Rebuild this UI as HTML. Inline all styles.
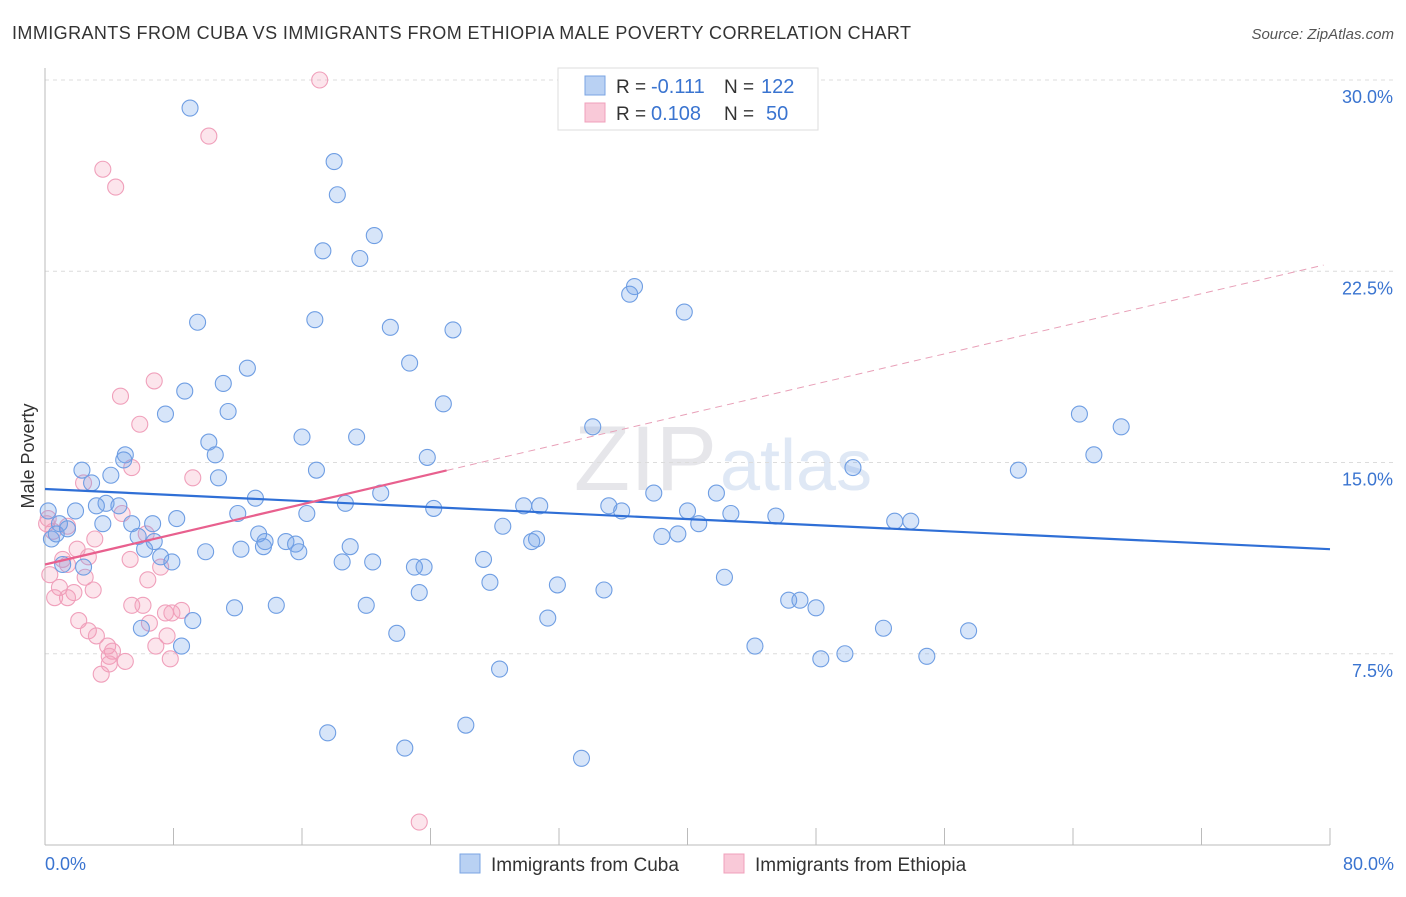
<!DOCTYPE html>
<html><head><meta charset="utf-8">
<style>
body{margin:0;background:#fff;font-family:"Liberation Sans",sans-serif;}
svg text{font-family:"Liberation Sans",sans-serif;}
</style></head>
<body>
<svg id="chart" width="1406" height="892" xmlns="http://www.w3.org/2000/svg">
<text x="12" y="39" font-size="18" fill="#333" textLength="899" lengthAdjust="spacing">IMMIGRANTS FROM CUBA VS IMMIGRANTS FROM ETHIOPIA MALE POVERTY CORRELATION CHART</text>
<text x="1394" y="39" font-size="15" fill="#555" text-anchor="end" font-style="italic">Source: ZipAtlas.com</text>
<text x="717" y="490" font-size="92" fill="#e6e6ea" text-anchor="end" font-family="Liberation Serif">ZIP</text>
<text x="720" y="490" font-size="72" fill="#dfe8f5">atlas</text>
<g id="grid"></g>
<g id="axes"></g>
<g id="marks"></g>
<text transform="translate(34,456) rotate(-90)" font-size="18" fill="#333" text-anchor="middle">Male Poverty</text>
<g>
<rect x="558" y="68" width="260" height="62" fill="#fff" stroke="#ddd"/>
<rect x="585" y="76" width="20" height="19" fill="#b9d1f3" stroke="#7aa4e3"/>
<rect x="585" y="103" width="20" height="19" fill="#f9c9d8" stroke="#f0a0bb"/>
<text x="616" y="93" font-size="19" fill="#333">R =</text>
<text x="651" y="93" font-size="20" fill="#3a74d0">-0.111</text>
<text x="724" y="93" font-size="19" fill="#333">N =</text>
<text x="761" y="93" font-size="20" fill="#3a74d0">122</text>
<text x="616" y="120" font-size="19" fill="#333">R =</text>
<text x="651" y="120" font-size="20" fill="#3a74d0">0.108</text>
<text x="724" y="120" font-size="19" fill="#333">N =</text>
<text x="766" y="120" font-size="20" fill="#3a74d0">50</text>
</g>
<g>
<rect x="460" y="854" width="20" height="19" fill="#b9d1f3" stroke="#7aa4e3"/>
<text x="491" y="871" font-size="19" fill="#333">Immigrants from Cuba</text>
<rect x="724" y="854" width="20" height="19" fill="#f9c9d8" stroke="#f0a0bb"/>
<text x="755" y="871" font-size="19" fill="#333">Immigrants from Ethiopia</text>
</g>
</svg>
<script>
const cubaX=[9.03,18.0,18.2,20.5,17.3,19.6,36.7,36.4,39.8,9.5,16.8,21.5,25.4,22.7,12.6,8.7,11.1,24.8,11.4,7.5,64.4,67.0,34.1,16.0,19.4,10.2,10.6,5.0,4.9,23.8,65.3,50.3,60.6,16.9,2.3,4.1,10.8,2.9,20.9,37.9,41.8,13.1,18.7,3.8,4.6,3.2,24.2,29.8,30.8,35.1,35.9,40.0,42.7,45.5,12.0,16.3,1.9,8.2,52.9,53.9,40.7,6.7,5.4,3.6,0.9,28.5,1.4,13.3,5.8,39.4,38.4,30.6,30.3,6.8,15.0,15.6,13.7,13.6,19.0,6.2,12.2,10.0,15.8,7.2,7.9,18.5,20.4,27.3,1.1,23.0,23.6,42.3,27.7,31.9,23.3,34.8,46.3,47.0,48.0,14.4,11.8,20.0,31.3,9.2,6.0,52.2,57.5,21.9,8.5,44.2,49.8,48.3,54.9,28.3,26.2,17.6,22.4,33.4,0.4,0.2,0.7,2.4];
const cubaY=[28.9,26.8,25.5,23.9,23.3,23.0,21.9,21.6,20.9,20.5,20.6,20.3,20.2,18.9,18.7,17.8,18.1,17.3,17.0,16.9,16.9,16.4,16.4,16.0,16.0,15.8,15.3,15.3,15.1,15.2,15.3,14.8,14.7,14.7,14.7,14.5,14.4,14.2,13.8,13.8,13.8,13.6,13.4,13.4,13.3,13.3,13.2,13.3,13.3,13.3,13.1,13.1,13.0,12.9,13.0,13.0,13.1,12.8,12.7,12.7,12.6,12.6,12.6,12.6,12.6,12.5,12.4,12.2,12.1,12.2,12.1,12.0,11.9,11.9,11.9,11.8,11.9,11.7,11.7,11.6,11.6,11.5,11.5,11.3,11.1,11.1,11.1,11.2,11.0,10.9,10.9,10.5,10.3,10.2,9.9,10.0,9.6,9.6,9.3,9.4,9.3,9.4,8.9,8.8,8.5,8.5,8.4,8.3,7.8,7.8,7.5,7.3,7.4,6.9,4.7,4.4,3.8,3.4,12.0,13.1,12.2,10.9];
const ethX=[17.1,10.2,3.6,4.4,6.8,4.7,5.9,5.4,9.2,2.4,4.8,0.2,1.4,6.3,3.1,2.0,2.7,1.1,5.3,1.4,7.2,0.3,2.5,6.4,0.9,3.0,1.8,0.6,1.4,5.4,6.1,7.5,8.5,7.9,2.1,6.5,2.7,3.2,7.6,3.9,6.9,4.2,4.0,7.8,4.0,5.0,3.5,23.3,0.1,0.5];
const ethY=[30.0,27.8,26.5,25.8,18.2,17.6,16.5,14.8,14.4,14.2,13.0,12.8,12.5,12.2,12.0,11.6,11.3,11.2,11.2,11.0,10.9,10.6,10.5,10.4,10.1,10.0,9.9,9.7,9.7,9.4,9.4,9.1,9.2,9.1,8.8,8.7,8.4,8.2,8.2,7.8,7.8,7.6,7.4,7.3,7.1,7.2,6.7,0.9,12.6,12.3];
const cubaTrend=[13.96,-0.0295];
const ethTrend=[11.0,0.1475];
const yTicks=[7.5,15.0,22.5,30.0];
const yTickLabels=["7.5%","15.0%","22.5%","30.0%"];
const xTicks=[0,8,16,24,32,40,48,56,64,72,80];

const NS="http://www.w3.org/2000/svg";
const xs=v=>45+v*(1285/80);
const ys=v=>845-v*25.5;
function mk(tag,attrs,parent){const e=document.createElementNS(NS,tag);for(const k in attrs)e.setAttribute(k,attrs[k]);parent.appendChild(e);return e;}
const grid=document.getElementById('grid'),axes=document.getElementById('axes'),marks=document.getElementById('marks');
yTicks.forEach((t,i)=>{
  const l=mk('line',{x1:45,x2:1394,y1:ys(t),y2:ys(t),stroke:'#dcdcdc','stroke-dasharray':'4,4'},grid);
  
  
  const tx=mk('text',{x:1393,y:ys(t)+23,'font-size':18,fill:'#3a74d0','text-anchor':'end'},axes);
  tx.textContent=yTickLabels[i];
  
  
});
const ax=mk('line',{x1:45,x2:45,y1:68,y2:845,stroke:'#bbb'},axes);


const bx=mk('line',{x1:45,x2:1330,y1:845,y2:845,stroke:'#bbb'},axes);


xTicks.forEach(t=>{
  const k=mk('line',{x1:xs(t),x2:xs(t),y1:828,y2:845,stroke:'#bbb'},axes);
  
  
});
const xl=mk('text',{x:45,y:870,'font-size':18,fill:'#3a74d0'},axes);xl.textContent='0.0%';


const xr=mk('text',{x:1394,y:870,'font-size':18,fill:'#3a74d0','text-anchor':'end'},axes);xr.textContent='80.0%';



ethX.forEach((x,i)=>{
  const c=mk('circle',{cx:xs(x),cy:ys(ethY[i]),r:8,fill:'rgba(244,150,180,0.25)',stroke:'#f0a0bb','stroke-width':1.1},marks);
  
  
});
cubaX.forEach((x,i)=>{
  const c=mk('circle',{cx:xs(x),cy:ys(cubaY[i]),r:8,fill:'rgba(110,160,235,0.28)',stroke:'#6f9ee3','stroke-width':1.1},marks);
  
  
});
const bl=mk('line',{x1:xs(0),y1:ys(cubaTrend[0]),x2:xs(80),y2:ys(cubaTrend[0]+cubaTrend[1]*80),stroke:'#2f6fd6','stroke-width':2.2},marks);


const pd=mk('line',{x1:xs(25),y1:ys(ethTrend[0]+ethTrend[1]*25),x2:xs(79.6),y2:ys(ethTrend[0]+ethTrend[1]*79.6),stroke:'#e8a0b8','stroke-width':1,'stroke-dasharray':'7,5'},marks);


const pl=mk('line',{x1:xs(0),y1:ys(ethTrend[0]),x2:xs(25),y2:ys(ethTrend[0]+ethTrend[1]*25),stroke:'#e8608e','stroke-width':2.2},marks);


</script>
</body></html>
